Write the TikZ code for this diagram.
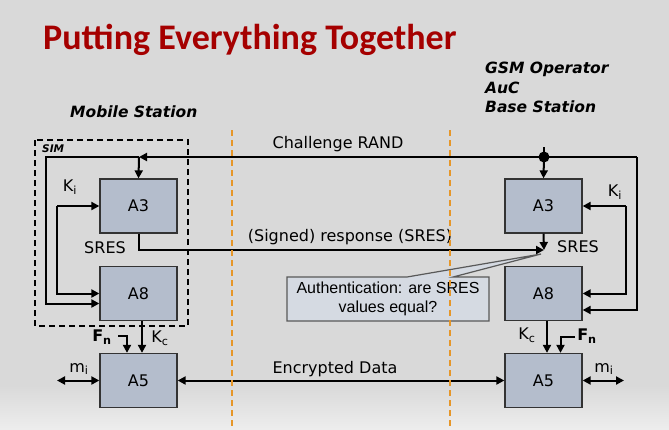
\documentclass[tikz,border=0pt]{standalone}
\usepackage{fontspec}
\setmainfont{DejaVu Sans}
\newfontfamily\titlefont{Carlito}
\newfontfamily\boxfont{Liberation Sans}
\usepackage{xcolor}
\usepackage{tikz}
\usetikzlibrary{arrows.meta, positioning, calc}

\definecolor{titlered}{HTML}{A50000}
\definecolor{bggray}{HTML}{D9D9D9}
\definecolor{algofill}{HTML}{B4BDCC}
\definecolor{calloutfill}{HTML}{D5DAE2}
\definecolor{sepcolor}{HTML}{E69628}

\tikzset{
    algo/.style={draw=black!80, line width=1.3pt, fill=algofill, minimum width=77pt, minimum height=54pt, inner sep=0pt},
    lbl/.style={font=\fontsize{16}{19}\selectfont, inner sep=0pt},
    head/.style={font=\fontsize{15.5}{19}\selectfont\bfseries\itshape, inner sep=0pt, anchor=base west},
    wire/.style={line width=2pt},
    arr/.style={line width=2pt, -{Triangle[length=8pt, width=8pt]}},
    dbl/.style={line width=2pt, {Triangle[length=8pt, width=8pt]}-{Triangle[length=8pt, width=8pt]}},
    sep/.style={sepcolor, line width=1.6pt, dash pattern=on 6pt off 4pt},
}

\begin{document}
\begin{tikzpicture}[x=1pt, y=-1pt]
    % background
    \fill[bggray] (0,0) rectangle (669,429);
    \shade[top color=bggray, bottom color=black!7] (0,385) rectangle (669,429);
    \useasboundingbox (0,0) rectangle (669,429);

    % title and headings
    \node[anchor=base west, inner sep=0pt, text=titlered, font=\titlefont\bfseries\fontsize{36}{40}\selectfont] (title) at (43,49) {Putting Everything Together};
    \node[head] (gsm) at (485,73) {GSM Operator};
    \node[head] (auc) at (485,93) {AuC};
    \node[head] (bts) at (485,112) {Base Station};
    \node[head] (ms) at (70,117) {Mobile Station};

    % SIM
    \draw[line width=1.4pt, dash pattern=on 6pt off 4pt] (35,140) rectangle (188,326);
    \node[anchor=north west, inner sep=0pt, font=\fontsize{10.5}{12}\selectfont\bfseries\itshape] (sim) at (42,145) {SIM};

    % algorithm boxes
    \node[algo] (msA3) at (138.5,206) {\fontsize{16}{19}\selectfont A3};
    \node[algo] (msA8) at (138.5,293.5) {\fontsize{16}{19}\selectfont A8};
    \node[algo] (msA5) at (138.5,380.5) {\fontsize{16}{19}\selectfont A5};
    \node[algo] (bsA3) at (543.5,206) {\fontsize{16}{19}\selectfont A3};
    \node[algo] (bsA8) at (543.5,293.5) {\fontsize{16}{19}\selectfont A8};
    \node[algo] (bsA5) at (543.5,380.5) {\fontsize{16}{19}\selectfont A5};

    % challenge RAND
    \coordinate (randtop) at (544,147);
    \coordinate (randsplit) at (139,157);
    \coordinate (simloop) at (46,157);
    \coordinate (bsloop) at (637,157);
    \draw[wire] (randtop) -- (544,157) coordinate (dotpt) -- (bsloop);
    \fill (dotpt) circle (5.5pt);
    \draw[arr] (dotpt) -- (randsplit);
    \draw[arr] (randsplit) -- (msA3.north);
    \draw[arr] (randsplit) -- (simloop) |- ([yshift=-10pt]msA8.west);
    \draw[arr] (dotpt) -- (bsA3.north);
    \draw[arr] (bsloop) |- ([yshift=-16.5pt]bsA8.east);
    \node[lbl] (rand) at (338,144) {Challenge RAND};

    % K_i
    \coordinate (kiL) at (57,206);
    \coordinate (kiR) at (626,206);
    \draw[arr] (kiL) -- (msA3.west);
    \draw[arr] (kiL) |- (msA8.west);
    \draw[arr] (kiR) -- (bsA3.east);
    \draw[arr] (kiR) |- (bsA8.east);
    \node[lbl] (kiLlbl) at (70,187) {K\textsubscript{i}};
    \node[lbl] (kiRlbl) at (615,192) {K\textsubscript{i}};

    % SRES
    \coordinate (sresin) at (544,250);
    \draw[arr] (msA3.south) |- (sresin);
    \draw[arr] (bsA3.south) -- (sresin);
    \node[lbl] (sresL) at (105,248) {SRES};
    \node[lbl] (sresR) at (578,247) {SRES};
    \node[lbl] (resp) at (350,237) {(Signed) response (SRES)};

    % callout
    \coordinate (authnw) at (287,277);
    \coordinate (authse) at (489,321);
    \coordinate (authtip) at (541,254);
    \filldraw[fill=calloutfill, draw=black!65, line width=1.2pt]
        (authnw) -- ($(authnw)+(120,0)$) -- (authtip) -- ($(authnw)+(166,0)$) -- (authse |- authnw)
        -- (authse) -- (authnw |- authse) -- cycle;
    \node[align=center, inner sep=0pt, font=\boxfont\fontsize{16}{19}\selectfont] (auth) at ($(authnw)!0.5!(authse)$) {Authentication: are SRES\\values equal?};

    % K_c and F_n
    \coordinate (fnL) at (118,336);
    \coordinate (fnR) at (575,337);
    \draw[arr] ([xshift=3.5pt]msA8.south) -- ([xshift=3.5pt]msA5.north);
    \draw[arr] (fnL) -| ([xshift=-11.5pt]msA5.north);
    \draw[arr] ([xshift=3.5pt]bsA8.south) -- ([xshift=3.5pt]bsA5.north);
    \draw[arr] (fnR) -| ([xshift=17pt]bsA5.north);
    \node[lbl] (kcL) at (160,338) {K\textsubscript{c}};
    \node[lbl] (kcR) at (527,335) {K\textsubscript{c}};
    \node[lbl, font=\fontsize{16}{19}\selectfont\bfseries] (fnLlbl) at (102,337) {F\textsubscript{n}};
    \node[lbl, font=\fontsize{16}{19}\selectfont\bfseries] (fnRlbl) at (587,336) {F\textsubscript{n}};

    % encrypted data and m_i
    \coordinate (miL) at (57,380.5);
    \coordinate (miR) at (624,380.5);
    \draw[dbl] (msA5.east) -- (bsA5.west);
    \draw[dbl] (miL) -- (msA5.west);
    \draw[dbl] (bsA5.east) -- (miR);
    \node[lbl] (enc) at (335,369) {Encrypted Data};
    \node[lbl] (miLlbl) at (79,369) {m\textsubscript{i}};
    \node[lbl] (miRlbl) at (604,369) {m\textsubscript{i}};

    % separators
    \draw[sep] (232,130) -- (232,429);
    \draw[sep] (450,130) -- (450,429);
\end{tikzpicture}
\end{document}
